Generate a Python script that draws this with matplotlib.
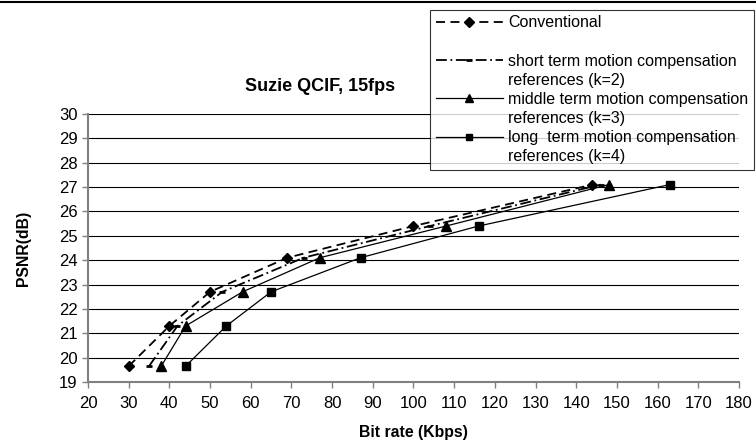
import matplotlib.pyplot as plt
from matplotlib.lines import Line2D

plt.rcParams['font.family'] = ['Liberation Sans', 'DejaVu Sans']

# PSNR levels shared by all curves
psnr = [19.65, 21.3, 22.7, 24.1, 25.4, 27.1]

# Bit rates (Kbps) per scheme
rate_conv = [30, 40, 50, 69, 100, 144]
rate_short = [35, 42, 53, 73, 104, 146]
rate_middle = [38, 44, 58, 77, 108, 148]
rate_long = [44, 54, 65, 87, 116, 163]

fig = plt.figure(figsize=(7.56, 4.46), dpi=100)
ax = fig.add_axes([0.1164, 0.1435, 0.861, 0.601])

ax.plot(rate_conv, psnr, color='black', linestyle=(0, (5, 3)), lw=1.3,
        marker='D', markersize=5.5)
ax.plot(rate_short, psnr, color='black', linestyle=(0, (6, 2, 1, 2)), lw=1.3,
        marker='_', markersize=5, markeredgewidth=2)
ax.plot(rate_middle, psnr, color='black', linestyle='-', lw=0.9,
        marker='^', markersize=6.5)
ax.plot(rate_long, psnr, color='black', linestyle='-', lw=0.9,
        marker='s', markersize=5.5)

ax.set_xlim(20, 180)
ax.set_ylim(19, 30)
ax.set_xticks(range(20, 181, 10))
ax.set_yticks(range(19, 31))
ax.tick_params(labelsize=12, colors='black', length=4, width=1, color='#808080')
ax.tick_params(axis='x', pad=6)
ax.grid(axis='y', color='black', lw=0.8)
ax.set_axisbelow(True)
for s in ['top', 'right']:
    ax.spines[s].set_visible(False)
for s in ['left', 'bottom']:
    ax.spines[s].set_color('#808080')
    ax.spines[s].set_linewidth(1.5)

ax.set_xlabel('Bit rate (Kbps)', fontsize=11.3, fontweight='bold', labelpad=10)
ax.set_ylabel('PSNR(dB)', fontsize=11.3, fontweight='bold', labelpad=20)
fig.text(0.423, 0.807, 'Suzie QCIF, 15fps', fontsize=13, fontweight='bold',
         ha='center', va='center')

# legend: continuation lines as entries without handles
blank = Line2D([], [], linestyle='none')
handles = [
    Line2D([], [], color='black', linestyle=(0, (5, 3)), lw=1.3, marker='D', markersize=5),
    blank,
    Line2D([], [], color='black', linestyle=(0, (6, 2, 1, 2)), lw=1.3, marker='_',
           markersize=5, markeredgewidth=2),
    blank,
    Line2D([], [], color='black', lw=0.9, marker='^', markersize=6),
    blank,
    Line2D([], [], color='black', lw=0.9, marker='s', markersize=5),
    blank,
]
labels = ['Conventional', ' ',
          'short term motion compensation', 'references (k=2)',
          'middle term motion compensation', 'references (k=3)',
          'long  term motion compensation', 'references (k=4)']
leg = fig.legend(handles, labels, loc='upper left', bbox_to_anchor=(0.569, 0.978),
                 fontsize=11.5, frameon=True, fancybox=False, edgecolor='black',
                 handlelength=4.2, handletextpad=0.35, labelspacing=0.26,
                 borderpad=0.35, borderaxespad=0)
leg.get_frame().set_linewidth(0.8)

fig.add_artist(Line2D([0, 1], [0.996, 0.996], color='black', lw=1.5,
                      transform=fig.transFigure))

fig.savefig('out.png', dpi=100)
